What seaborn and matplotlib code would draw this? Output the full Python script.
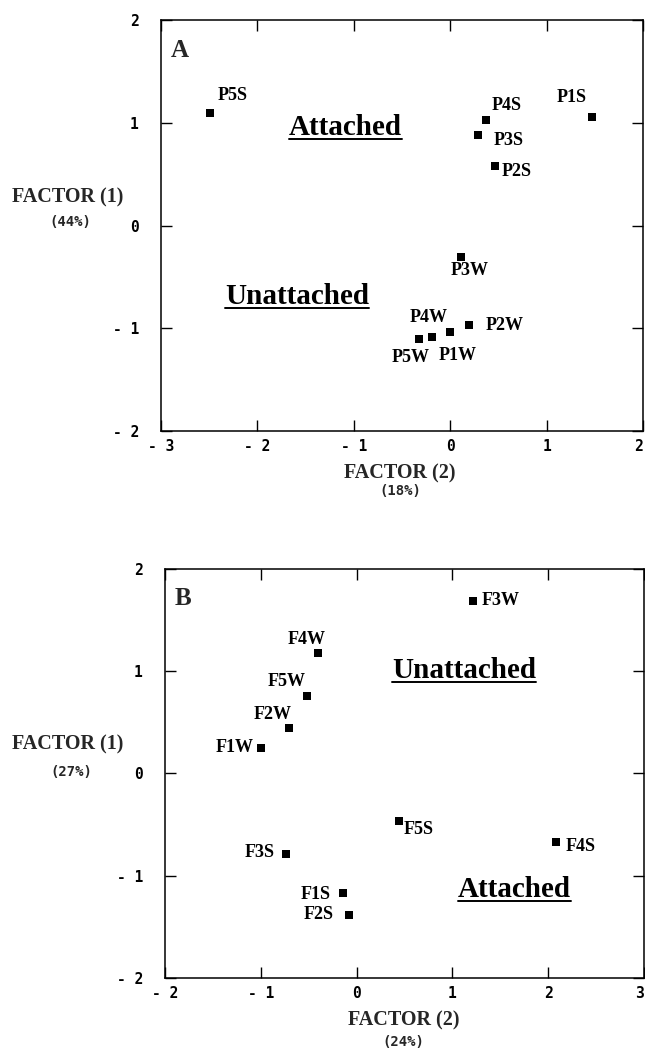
import pandas as pd
import matplotlib
matplotlib.use("Agg")
import matplotlib.pyplot as plt
from matplotlib.lines import Line2D
import seaborn as sns

# Panel A: points P1..P5, S = attached, W = unattached
a_names = ["P5S", "P4S", "P3S", "P2S", "P1S", "P3W", "P2W", "P1W", "P4W", "P5W"]
a_factor2 = [-2.49, 0.37, 0.29, 0.46, 1.47, 0.11, 0.19, 0.00, -0.19, -0.32]
a_factor1 = [1.10, 1.03, 0.88, 0.58, 1.06, -0.31, -0.97, -1.04, -1.08, -1.10]

# Panel B: points F1..F5
b_names = ["F3W", "F4W", "F5W", "F2W", "F1W", "F5S", "F4S", "F3S", "F1S", "F2S"]
b_factor2 = [1.22, -0.40, -0.52, -0.71, -1.00, 0.44, 2.08, -0.74, -0.14, -0.08]
b_factor1 = [1.69, 1.18, 0.76, 0.44, 0.25, -0.46, -0.67, -0.79, -1.17, -1.38]

a_xticks = [-3, -2, -1, 0, 1, 2]
b_xticks = [-2, -1, 0, 1, 2, 3]
yticks = [-2, -1, 0, 1, 2]

# label offsets in pixels from the marker: (dx, dy, ha)
a_offsets = {
    "P5S": (7, 17, "left"), "P4S": (6, 14, "left"), "P3S": (15, -5, "left"),
    "P2S": (7, -6, "left"), "P1S": (-20, 19, "center"), "P3W": (9, -13, "center"),
    "P2W": (17, 0, "left"), "P4W": (-3, 19, "center"), "P5W": (-9, -19, "center"),
    "P1W": (7, -23, "center"),
}
b_offsets = {
    "F3W": (8, 0, "left"), "F4W": (-12, 13, "center"), "F5W": (-20, 14, "center"),
    "F2W": (-16, 14, "center"), "F1W": (-7, 0, "right"), "F5S": (5, -9, "left"),
    "F4S": (10, -5, "left"), "F3S": (-11, 2, "right"), "F1S": (-13, -1, "right"),
    "F2S": (-15, 0, "right"),
}

sns.set_style("ticks")
plt.rcParams["font.family"] = ["DejaVu Sans"]

serif = dict(family="Liberation Serif", fontweight="bold")
mono = dict(family="DejaVu Sans Mono", fontweight="bold")

region_texts = []


def tick_text(v):
    return f"- {abs(v)}" if v < 0 else str(v)


def draw_panel(ax, names, xs, ys, offsets, xticks, letter, regions):
    df = pd.DataFrame({"name": names, "f2": xs, "f1": ys})
    sns.scatterplot(data=df, x="f2", y="f1", marker="s", color="black",
                    s=26, linewidth=0, ax=ax, legend=False)
    for _, r in df.iterrows():
        dx, dy, ha = offsets[r["name"]]
        ax.annotate(r["name"], (r["f2"], r["f1"]), xytext=(dx, dy),
                    textcoords="offset pixels", ha=ha, va="center",
                    fontsize=13, color="black", **serif)
    for txt, x, y in regions:
        t = ax.text(x, y, txt, ha="center", va="center", fontsize=21,
                    color="black", **serif)
        region_texts.append(t)
    ax.text(0.02, 0.955, letter, transform=ax.transAxes, ha="left", va="top",
            fontsize=18, **serif)
    ax.set_xlim(xticks[0], xticks[-1])
    ax.set_ylim(-2, 2)
    ax.set_xticks(xticks)
    ax.set_xticklabels([tick_text(v) for v in xticks], fontsize=10.5, **mono)
    ax.get_xticklabels()[-1].set_horizontalalignment("right")
    ax.set_yticks(yticks)
    ax.set_yticklabels([tick_text(v) for v in yticks], fontsize=10.5, **mono)
    ax.set_xlabel("")
    ax.set_ylabel("")
    ax.tick_params(axis="both", direction="in", top=True, right=True,
                   length=8, width=1.0, colors="black")
    ax.tick_params(axis="y", pad=16)
    ax.tick_params(axis="x", pad=6)
    for sp in ax.spines.values():
        sp.set_visible(True)
        sp.set_linewidth(1.1)
        sp.set_color("black")


fig = plt.figure(figsize=(6.45, 10.49), dpi=100)
ax_a = fig.add_axes([0.2496, 0.5891, 0.7473, 0.3918])
ax_b = fig.add_axes([0.2558, 0.0677, 0.7426, 0.3899])

draw_panel(ax_a, a_names, a_factor2, a_factor1, a_offsets, a_xticks, "A",
           [("Attached", -1.09, 0.95), ("Unattached", -1.59, -0.69)])
draw_panel(ax_b, b_names, b_factor2, b_factor1, b_offsets, b_xticks, "B",
           [("Unattached", 1.12, 1.01), ("Attached", 1.65, -1.13)])

# underline the region labels
fig.canvas.draw()
renderer = fig.canvas.get_renderer()
for t in region_texts:
    bb = t.get_window_extent(renderer)
    fx0, fy = fig.transFigure.inverted().transform((bb.x0, bb.y0 + 2))
    fx1, _ = fig.transFigure.inverted().transform((bb.x1, bb.y0 + 2))
    fig.add_artist(Line2D([fx0, fx1], [fy, fy], color="black", lw=1.4,
                          transform=fig.transFigure))

# axis titles
for x, y, s in [(0.105, 0.812, "FACTOR (1)"), (0.620, 0.549, "FACTOR (2)"),
                (0.105, 0.290, "FACTOR (1)"), (0.626, 0.0276, "FACTOR (2)")]:
    fig.text(x, y, s, ha="center", va="center", fontsize=14.5, **serif)
for x, y, s in [(0.1085, 0.7884, "(44%)"), (0.620, 0.532, "(18%)"),
                (0.110, 0.264, "(27%)"), (0.625, 0.0065, "(24%)")]:
    fig.text(x, y, s, ha="center", va="center", fontsize=10, **mono)

fig.savefig("out.png", dpi=100)
